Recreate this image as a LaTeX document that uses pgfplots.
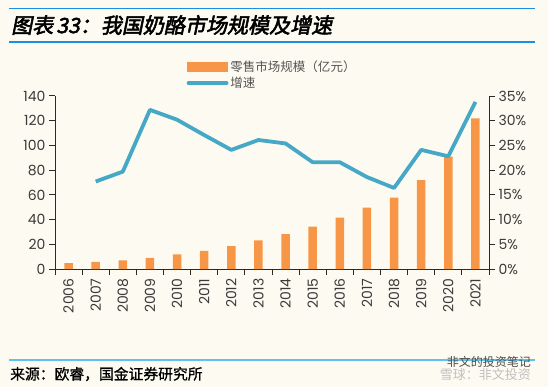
\documentclass[border=0pt]{standalone}
\usepackage{fontspec}
\setmainfont{Poppins}
\newfontfamily\cjk{Noto Sans CJK SC}
\newfontfamily\cjkb[FakeSlant=0.2,FakeBold=2.5]{Noto Sans CJK SC}
\newfontfamily\cjks[FakeBold=1]{Noto Sans CJK SC}
\usepackage{pgfplots}
\pgfplotsset{compat=1.18}
\definecolor{bg}{HTML}{FDFBF1}
\definecolor{barc}{HTML}{F79646}
\definecolor{linec}{HTML}{45A8C6}
\definecolor{topblue}{HTML}{1A8FE3}
\definecolor{footblue}{HTML}{5BC3EE}
\definecolor{tickc}{HTML}{2A2A2A}
\definecolor{labc}{HTML}{3A3A3A}
\definecolor{legc}{HTML}{555555}

\begin{document}
\begin{tikzpicture}[x=1bp,y=1bp]
\fill[bg] (0,0) rectangle (548,387);
\path[use as bounding box] (0,0) rectangle (548,387);
\draw[topblue, line width=1.5bp] (9,378.5) -- (535,378.5);
\draw[topblue, line width=1.5bp] (9,345) -- (535,345);
\node[anchor=west, inner sep=0pt] at (11,362) {\resizebox{321bp}{!}{\cjkb\fontsize{20bp}{22bp}\selectfont 图表\hspace{3bp}33：我国奶酪市场规模及增速}};
\draw[footblue, line width=2.5bp] (9,27) -- (535,27);
\node[anchor=west, inner sep=0pt] at (10,13) {\cjks\fontsize{14.8bp}{16bp}\selectfont 来源：欧睿，国金证券研究所};
\node[anchor=east, inner sep=0pt, text=black!70] at (531,25) {\cjk\fontsize{12bp}{14bp}\selectfont 非文的投资笔记};
\node[anchor=east, inner sep=0pt, text=black!25] at (531,12) {\cjk\fontsize{13bp}{15bp}\selectfont 雪球：非文投资};

\begin{axis}[
  at={(55bp,118bp)}, anchor=south west,
  scale only axis, width=434bp, height=173bp,
  xmin=-0.5, xmax=15.5, ymin=0, ymax=140,
  axis x line*=bottom, axis y line*=left,
  axis line style={-, tickc, line width=1bp},
  xtick={0,...,15},
  xticklabels={2006,2007,2008,2009,2010,2011,2012,2013,2014,2015,2016,2017,2018,2019,2020,2021},
  minor xtick={-0.5,0.5,...,15.5},
  major x tick style={draw=none},
  minor x tick style={draw=tickc, line width=1bp},
  minor tick length=6bp,
  ytick={0,20,...,140},
  major y tick style={draw=tickc, line width=1bp},
  major tick length=6bp,
  tick align=outside,
  xticklabel style={rotate=90, anchor=east, font=\fontsize{14bp}{16bp}\selectfont, text=labc},
  yticklabel style={font=\fontsize{14bp}{16bp}\selectfont, text=labc},
  /pgf/number format/assume math mode=true,
  clip=false,
]
\addplot[ybar, bar width=8.5bp, fill=barc, draw=none] coordinates {
(0,4.8) (1,5.7) (2,7.0) (3,9.1) (4,11.8) (5,14.7) (6,18.5) (7,23.1)
(8,28.3) (9,34.2) (10,41.5) (11,49.6) (12,57.7) (13,72.0) (14,90.9) (15,121.9)};
\end{axis}

\begin{axis}[
  at={(55bp,118bp)}, anchor=south west,
  scale only axis, width=434bp, height=173bp,
  xmin=-0.5, xmax=15.5, ymin=0, ymax=35,
  axis x line=none, axis y line*=right,
  axis line style={-, tickc, line width=1bp},
  ytick={0,5,...,35},
  yticklabels={0\%,5\%,10\%,15\%,20\%,25\%,30\%,35\%},
  major y tick style={draw=tickc, line width=1bp},
  major tick length=6bp,
  tick align=outside,
  yticklabel style={font=\fontsize{14bp}{16bp}\selectfont, text=labc},
  clip=false,
  legend style={at={(0.303,1.215)}, anchor=north west, draw=none, fill=none,
    inner sep=0pt, font=\cjk\fontsize{12.5bp}{14bp}\selectfont, text=legc,
    row sep=0bp, cells={anchor=west}},
  legend cell align=left,
]
\addlegendimage{legend image code/.code={\fill[barc] (0bp,-4.5bp) rectangle (40bp,4.5bp);}}
\addlegendentry{零售市场规模（亿元）}
\addplot[linec, line width=3.8bp, line join=round, mark=none,
  legend image code/.code={\draw[linec,line width=3.8bp,line cap=round] (1bp,0bp) -- (39bp,0bp);}] coordinates {
(1,17.7) (2,19.7) (3,32.2) (4,30.2) (5,27.1) (6,24.1) (7,26.1) (8,25.4)
(9,21.6) (10,21.6) (11,18.6) (12,16.4) (13,24.1) (14,22.8) (15,33.8)};
\addlegendentry{增速}
\end{axis}
\end{tikzpicture}
\end{document}
